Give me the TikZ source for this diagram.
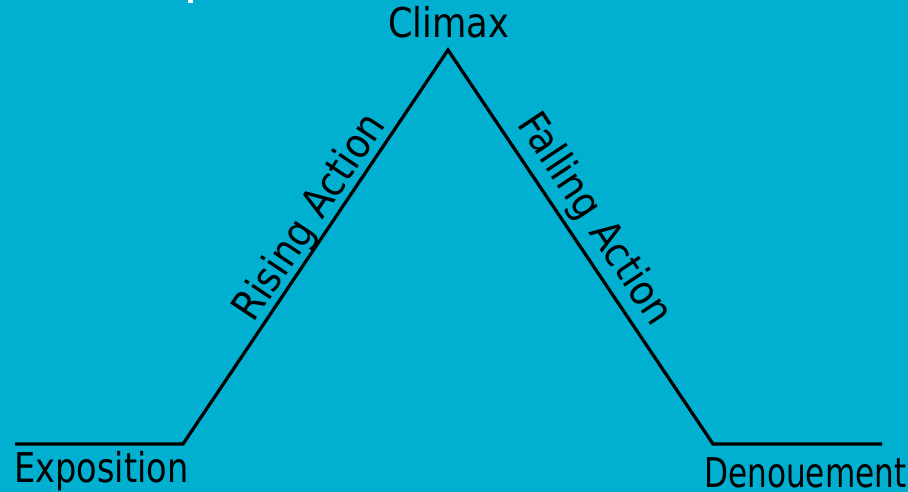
\documentclass[tikz,border=0pt]{standalone}
\usepackage{fontspec}
\setmainfont{DejaVu Sans}
\usetikzlibrary{calc}
\definecolor{plotbg}{HTML}{01AFD1}
\begin{document}
\begin{tikzpicture}[x=1pt, y=1pt,
  lbl/.style={inner sep=0pt, text=black, font={\fontsize{41}{41}\selectfont\addfontfeatures{FakeStretch=#1}}},
  arc/.style={draw=black, line width=3.2pt, line join=miter}]
  \fill[plotbg] (0,0) rectangle (908,492);
  \useasboundingbox (0,0) rectangle (908,492);
  \fill[white] (188,489) rectangle (193,492);
  \coordinate (start) at (15,48);
  \coordinate (rise)  at (183,48);
  \coordinate (peak)  at (448,442);
  \coordinate (fall)  at (713,48);
  \coordinate (stop)  at (882,48);
  \draw[arc] (start) -- (rise) -- (peak) -- (fall) -- (stop);
  \node[lbl=0.86, anchor=base west] (climax) at (388,454) {Climax};
  \node[lbl=0.82, anchor=base west] (expo)   at (14,9)    {Exposition};
  \node[lbl=0.76, anchor=base west] (deno)   at (704,4)   {Denouement};
  \node[lbl=0.9, rotate=56.3]  (risetxt) at ($(rise)!0.545!(peak)!20pt!90:(peak)$) {Rising Action};
  \node[lbl=0.9, rotate=-56.3] (falltxt) at ($(peak)!0.468!(fall)!26pt!90:(fall)$) {Falling Action};
\end{tikzpicture}
\end{document}
